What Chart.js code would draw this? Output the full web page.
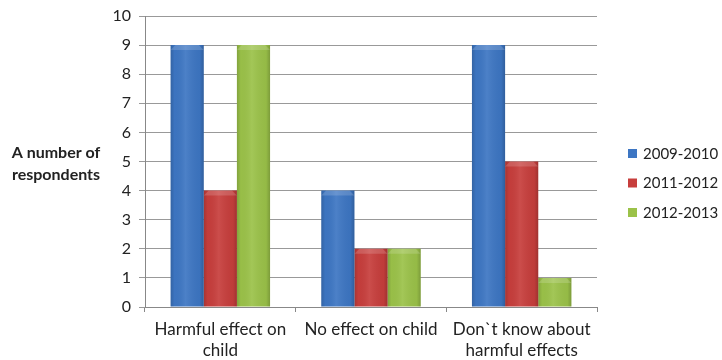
<!DOCTYPE html>
<html>
<head>
<meta charset="utf-8">
<script src="https://cdn.jsdelivr.net/npm/chart.js@4/dist/chart.umd.min.js"></script>
<style>
  html, body { margin: 0; padding: 0; background: #fff; }
  #wrap { width: 722px; height: 360px; position: relative; }
</style>
</head>
<body>
<div id="wrap"><canvas id="c" width="722" height="360"></canvas></div>
<script>
// Survey answers, grouped by answer, one series per school year
const categories = [["Harmful effect on", "child"], "No effect on child", ["Don`t know about", "harmful effects"]];
const seriesLabels = ["2009-2010", "2011-2012", "2012-2013"];
const values2009 = [9, 4, 9];
const values2011 = [4, 2, 5];
const values2012 = [9, 2, 1];
const yTicks = [0, 1, 2, 3, 4, 5, 6, 7, 8, 9, 10];
const yTitle = ["A number of", "respondents"];

const colors = ["#3d76c3", "#c73e3c", "#9bc249"];
const FONT = "Lato, 'Open Sans', sans-serif";

// Soft horizontal shading and a bevelled top on every bar
const barSheen = {
  id: "barSheen",
  afterDatasetsDraw(chart) {
    const ctx = chart.ctx;
    chart.data.datasets.forEach((ds, di) => {
      const meta = chart.getDatasetMeta(di);
      meta.data.forEach(bar => {
        const p = bar.getProps(["x", "y", "base", "width"], true);
        const l = p.x - p.width / 2, r = p.x + p.width / 2;
        const top = p.y, bot = p.base;
        ctx.save();
        const g = ctx.createLinearGradient(l, 0, r, 0);
        g.addColorStop(0, "rgba(0,0,0,0.16)");
        g.addColorStop(0.12, "rgba(0,0,0,0.02)");
        g.addColorStop(0.45, "rgba(255,255,255,0.08)");
        g.addColorStop(0.88, "rgba(0,0,0,0.04)");
        g.addColorStop(1, "rgba(0,0,0,0.20)");
        ctx.fillStyle = g;
        ctx.fillRect(l, top, r - l, bot - top);
        // bevel at the top edge
        const h = Math.min(5, (bot - top) / 2);
        ctx.beginPath();
        ctx.moveTo(l, top + h);
        ctx.lineTo(l + h, top);
        ctx.lineTo(r - h, top);
        ctx.lineTo(r, top + h);
        ctx.closePath();
        ctx.fillStyle = "rgba(255,255,255,0.16)";
        ctx.fill();
        ctx.restore();
      });
    });
  }
};

// Horizontal axis title on the left and the series key on the right
const sideTexts = {
  id: "sideTexts",
  afterDraw(chart) {
    const ctx = chart.ctx;
    ctx.save();
    ctx.font = "bold 16px " + FONT;
    ctx.fillStyle = "#222";
    ctx.textAlign = "center";
    ctx.textBaseline = "middle";
    ctx.fillText(yTitle[0], 56, 153);
    ctx.fillText(yTitle[1], 56, 175);

    ctx.font = "15px " + FONT;
    ctx.textAlign = "left";
    chart.data.datasets.forEach((ds, i) => {
      const y = 153 + i * 29.5;
      ctx.fillStyle = ds.backgroundColor;
      ctx.fillRect(628, y - 4, 9, 9);
      ctx.fillStyle = "#222";
      ctx.fillText(ds.label, 643, y + 1);
    });
    ctx.restore();
  }
};

new Chart(document.getElementById("c"), {
  type: "bar",
  data: {
    labels: categories,
    datasets: [
      { label: seriesLabels[0], data: values2009, backgroundColor: colors[0] },
      { label: seriesLabels[1], data: values2011, backgroundColor: colors[1] },
      { label: seriesLabels[2], data: values2012, backgroundColor: colors[2] }
    ]
  },
  options: {
    responsive: false,
    animation: false,
    layout: { padding: { top: 16, right: 125, left: 0, bottom: 0 } },
    datasets: { bar: { categoryPercentage: 0.66, barPercentage: 1.0 } },
    plugins: {
      tooltip: { enabled: false },
      legend: { display: false }
    },
    scales: {
      x: {
        grid: { display: true, drawOnChartArea: false, tickLength: 5, color: "#888" },
        border: { color: "#888" },
        ticks: { font: { family: FONT, size: 17, lineHeight: 1.25 }, color: "#222", padding: 7 },
        afterFit(s) { s.height = 53; s.paddingLeft = 0; s.paddingRight = 0; }
      },
      y: {
        min: 0, max: 10,
        afterBuildTicks(s) { s.ticks = yTicks.map(v => ({ value: v })); },
        grid: { color: "#999", tickLength: 6 },
        border: { color: "#888" },
        ticks: { font: { family: FONT, size: 16 }, color: "#222", padding: 8 },
        afterFit(s) { s.width = 145; s.paddingTop = 0; s.paddingBottom = 0; }
      }
    }
  },
  plugins: [barSheen, sideTexts]
});
</script>
</body>
</html>
